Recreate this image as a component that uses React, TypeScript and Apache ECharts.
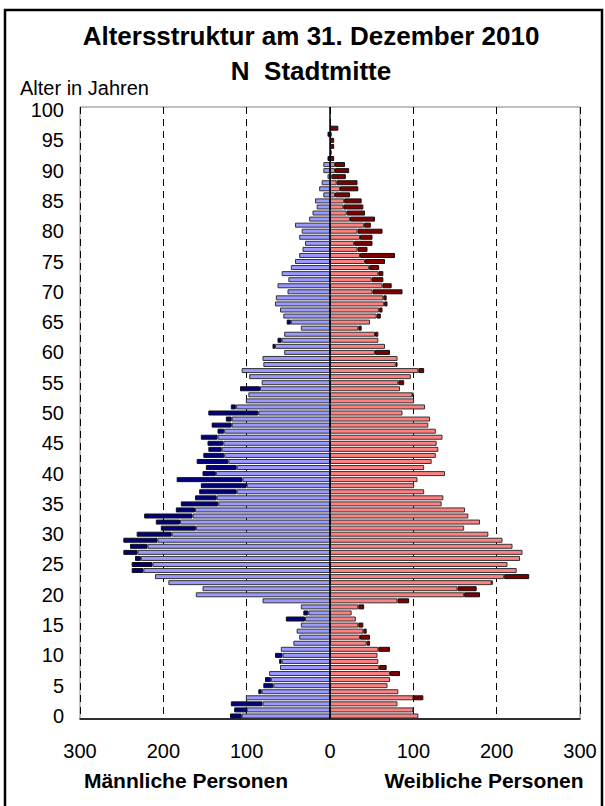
import React, { useEffect, useRef } from "react";
import * as echarts from "echarts";

const ages: string[] = Array.from({ length: 101 }, (_, i) => String(i));

// index = age (0..100)
const maleLight = [
  106, 100, 81, 101, 82, 68, 71, 73, 60, 58,
  57, 59, 44, 37, 40, 35, 30, 26, 35, 81,
  161, 153, 194, 210, 224, 213, 227, 231, 219, 207,
  190, 161, 180, 165, 162, 134, 136, 112, 100, 105,
  137, 112, 122, 127, 130, 128, 135, 127, 118, 118,
  86, 113, 101, 98, 84, 82, 97, 106, 80, 81,
  55, 66, 58, 55, 35, 47, 56, 60, 66, 65,
  51, 63, 50, 58, 47, 42, 37, 33, 30, 37,
  34, 42, 25, 21, 16, 18, 8, 13, 10, 3,
  8, 8, 0, 0, 0, 0, 0, 0, 0, 0,
  0,
];
const maleDark = [
  14, 15, 38, 0, 4, 12, 7, 0, 0, 3,
  9, 0, 0, 0, 0, 0, 23, 6, 0, 0,
  0, 0, 0, 0, 14, 25, 7, 17, 21, 41,
  42, 42, 29, 58, 23, 45, 26, 45, 55, 79,
  16, 37, 38, 25, 16, 19, 20, 8, 24, 7,
  60, 6, 0, 0, 24, 0, 0, 0, 0, 0,
  0, 3, 5, 0, 0, 5, 0, 0, 0, 0,
  0, 0, 0, 0, 0, 0, 0, 0, 0, 0,
  0, 0, 0, 0, 0, 0, 0, 0, 0, 0,
  0, 0, 3, 0, 0, 0, 3, 0, 0, 0,
  0,
];
const femaleLight = [
  106, 100, 81, 100, 82, 69, 72, 72, 59, 58,
  57, 58, 44, 36, 40, 34, 31, 26, 34, 81,
  161, 153, 194, 209, 224, 213, 228, 231, 219, 207,
  190, 161, 180, 166, 162, 134, 136, 113, 101, 105,
  138, 113, 122, 127, 130, 128, 135, 127, 118, 120,
  87, 114, 101, 99, 84, 82, 97, 106, 79, 81,
  54, 66, 58, 54, 34, 48, 56, 59, 65, 64,
  51, 63, 50, 58, 47, 42, 36, 33, 29, 36,
  33, 41, 24, 20, 16, 17, 6, 12, 8, 2,
  6, 6, 0, 0, 0, 0, 0, 0, 0, 0,
  0,
];
const femaleDark = [
  0, 0, 0, 12, 0, 0, 0, 12, 9, 0,
  0, 14, 4, 12, 4, 6, 0, 0, 7, 14,
  19, 23, 1, 30, 0, 0, 0, 0, 0, 0,
  0, 0, 0, 0, 0, 0, 0, 0, 0, 0,
  0, 0, 0, 0, 0, 0, 0, 0, 0, 0,
  0, 0, 0, 1, 0, 7, 0, 7, 2, 0,
  18, 0, 0, 4, 4, 0, 5, 4, 4, 4,
  36, 11, 14, 6, 12, 24, 42, 12, 22, 15,
  30, 8, 30, 22, 24, 21, 18, 22, 25, 17,
  17, 12, 5, 2, 5, 5, 2, 10, 0, 0,
  0,
];

const titleLine1 = "Altersstruktur am 31. Dezember 2010";
const titleLine2 = "N  Stadtmitte";
const yName = "Alter in Jahren";
const maleLabel = "Männliche Personen";
const femaleLabel = "Weibliche Personen";

const FONT = "'Liberation Sans', Arial, sans-serif";

export default function App() {
  const ref = useRef<HTMLDivElement>(null);

  useEffect(() => {
    if (!ref.current) return;
    const chart = echarts.init(ref.current, undefined, { renderer: "svg" });

    const neg = (arr: number[]) => arr.map((v) => (v ? -v : "-"));
    const pos = (arr: number[]) => arr.map((v) => (v ? v : "-"));
    const barBase = {
      type: "bar" as const,
      barWidth: 5,
      barGap: "-100%",
      silent: true,
    };

    chart.setOption({
      animation: false,
      backgroundColor: "#ffffff",
      textStyle: { fontFamily: FONT },
      grid: {
        left: 80,
        right: 25,
        top: 107,
        bottom: 87,
        show: true,
        borderColor: "#808080",
        borderWidth: 1,
      },
      xAxis: {
        type: "value",
        min: -300,
        max: 300,
        interval: 100,
        axisLine: { show: true, lineStyle: { color: "#000", width: 1.5 } },
        axisTick: { show: false },
        axisLabel: {
          formatter: (v: number) => String(Math.abs(v)),
          fontSize: 20,
          color: "#000",
          margin: 22,
          fontFamily: FONT,
        },
        splitLine: {
          show: true,
          lineStyle: { color: "#000", type: [7, 5], width: 1 },
        },
      },
      yAxis: {
        type: "category",
        data: ages,
        axisLine: { show: false },
        axisTick: { show: false },
        axisLabel: {
          interval: 4,
          fontSize: 20,
          color: "#000",
          margin: 16,
          fontFamily: FONT,
        },
        splitLine: { show: false },
      },
      series: [
        {
          ...barBase,
          name: "maleLight",
          stack: "m",
          data: neg(maleLight),
          itemStyle: { color: "#9999FF", borderColor: "#333", borderWidth: 1 },
        },
        {
          ...barBase,
          name: "maleDark",
          stack: "m",
          data: neg(maleDark),
          itemStyle: { color: "#000080", borderColor: "#111", borderWidth: 1 },
        },
        {
          ...barBase,
          name: "femaleLight",
          stack: "f",
          data: pos(femaleLight),
          itemStyle: { color: "#FF8080", borderColor: "#333", borderWidth: 1 },
        },
        {
          ...barBase,
          name: "femaleDark",
          stack: "f",
          data: pos(femaleDark),
          itemStyle: { color: "#800000", borderColor: "#111", borderWidth: 1 },
          markLine: {
            silent: true,
            symbol: ["none", "none"],
            label: { show: false },
            lineStyle: { color: "#000", type: "solid", width: 1.5 },
            data: [{ xAxis: 0 }],
          },
        },
      ],
      graphic: [
        {
          type: "rect",
          shape: { x: 5, y: 10, width: 597, height: 810 },
          style: { fill: "none", stroke: "#000", lineWidth: 2.5 },
          silent: true,
        },
        {
          type: "text",
          x: 311,
          y: 36,
          style: {
            text: titleLine1,
            fill: "#000",
            font: `bold 26px ${FONT}`,
            align: "center",
            verticalAlign: "middle",
          },
        },
        {
          type: "text",
          x: 311,
          y: 71,
          style: {
            text: titleLine2,
            fill: "#000",
            font: `bold 26px ${FONT}`,
            align: "center",
            verticalAlign: "middle",
          },
        },
        {
          type: "text",
          x: 20,
          y: 88,
          style: {
            text: yName,
            fill: "#000",
            font: `20px ${FONT}`,
            align: "left",
            verticalAlign: "middle",
          },
        },
        {
          type: "text",
          x: 186,
          y: 780,
          style: {
            text: maleLabel,
            fill: "#000",
            font: `bold 21px ${FONT}`,
            align: "center",
            verticalAlign: "middle",
          },
        },
        {
          type: "text",
          x: 484,
          y: 780,
          style: {
            text: femaleLabel,
            fill: "#000",
            font: `bold 21px ${FONT}`,
            align: "center",
            verticalAlign: "middle",
          },
        },
      ],
    });

    return () => chart.dispose();
  }, []);

  return (
    <div
      ref={ref}
      style={{ position: "absolute", left: 0, top: 0, width: 605, height: 806 }}
    />
  );
}
